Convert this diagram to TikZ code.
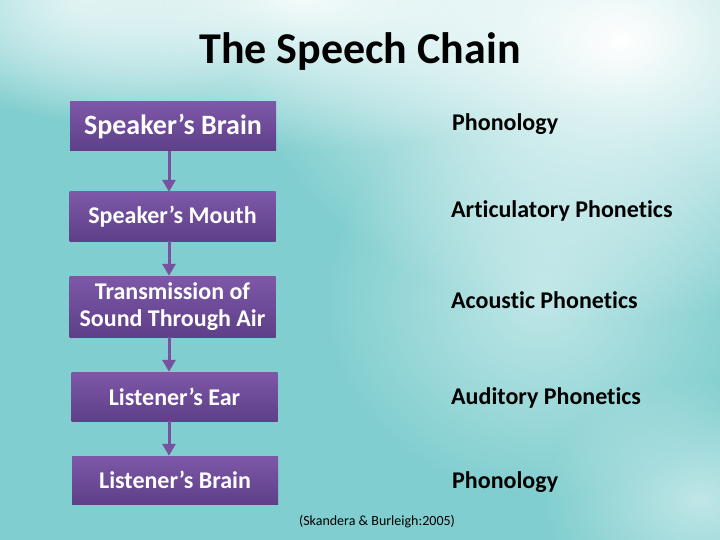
\documentclass[tikz,border=0pt]{standalone}
\usepackage{fontspec}
\setmainfont[Ligatures=NoCommon]{Carlito}
\usetikzlibrary{arrows.meta,fadings}
\definecolor{teal1}{HTML}{80CECF}
\definecolor{teal2}{HTML}{9ED9D9}
\definecolor{boxtop}{HTML}{7D58A8}
\definecolor{boxbot}{HTML}{5E3F88}
\definecolor{arrowc}{HTML}{7652A0}
\tikzfading[name=softcircle, inner color=transparent!0, outer color=transparent!100]
\begin{document}
\begin{tikzpicture}[x=1pt,y=-1pt,
  chainbox/.style={minimum width=206pt, inner sep=0pt, align=center,
    top color=boxtop, bottom color=boxbot, text=white, font=\fontsize{24}{27}\selectfont\bfseries},
  rlabel/.style={anchor=base west, inner sep=0pt, font=\fontsize{24}{28}\selectfont\bfseries},
  chainarrow/.style={draw=arrowc, line width=3pt, -{Triangle[width=13pt,length=12pt]}}]
\useasboundingbox (0,0) rectangle (720,540);
% background
\fill[teal1] (0,0) rectangle (720,540);
\begin{scope}
\clip (0,0) rectangle (720,540);
\fill[white, opacity=1, path fading=softcircle] (620,40) ellipse (380pt and 280pt);
\fill[white, opacity=0.9, path fading=softcircle] (300,0) ellipse (420pt and 150pt);
\fill[white, opacity=0.6, path fading=softcircle] (80,0) ellipse (200pt and 120pt);
\fill[white, opacity=0.5, path fading=softcircle] (540,300) ellipse (220pt and 200pt);
\fill[white, opacity=0.5, path fading=softcircle] (700,500) ellipse (160pt and 120pt);
\end{scope}
% title
\node[font=\fontsize{44}{48}\selectfont\bfseries] (title) at (360,52) {The Speech Chain};
% boxes
\node[chainbox, minimum height=49pt, font=\fontsize{28}{30}\selectfont\bfseries] (b1) at (173,126.5) {Speaker’s Brain};
\node[chainbox, minimum height=49pt] (b2) at (172.5,216.5) {Speaker’s Mouth};
\node[chainbox, minimum height=61pt] (b3) at (172.5,306.5) {Transmission of\\Sound Through Air};
\node[chainbox, minimum height=49pt] (b4) at (174.5,396.5) {Listener’s Ear};
\node[chainbox, minimum height=48pt] (b5) at (175,480) {Listener’s Brain};
% arrows
\draw[chainarrow] (b1.south -| 169,0) -- (b2.north -| 169,0);
\draw[chainarrow] (b2.south -| 169,0) -- (b3.north -| 169,0);
\draw[chainarrow] (b3.south -| 169,0) -- (b4.north -| 169,0);
\draw[chainarrow] (b4.south -| 169,0) -- (b5.north -| 169,0);
% labels
\node[rlabel] (l1) at (452,131) {Phonology};
\node[rlabel] (l2) at (451,218) {Articulatory Phonetics};
\node[rlabel] (l3) at (451,308) {Acoustic Phonetics};
\node[rlabel] (l4) at (451,404) {Auditory Phonetics};
\node[rlabel] (l5) at (452,488) {Phonology};
% citation
\node[font=\fontsize{14}{16}\selectfont] (cite) at (377,522) {(Skandera \& Burleigh:2005)};
\end{tikzpicture}
\end{document}
